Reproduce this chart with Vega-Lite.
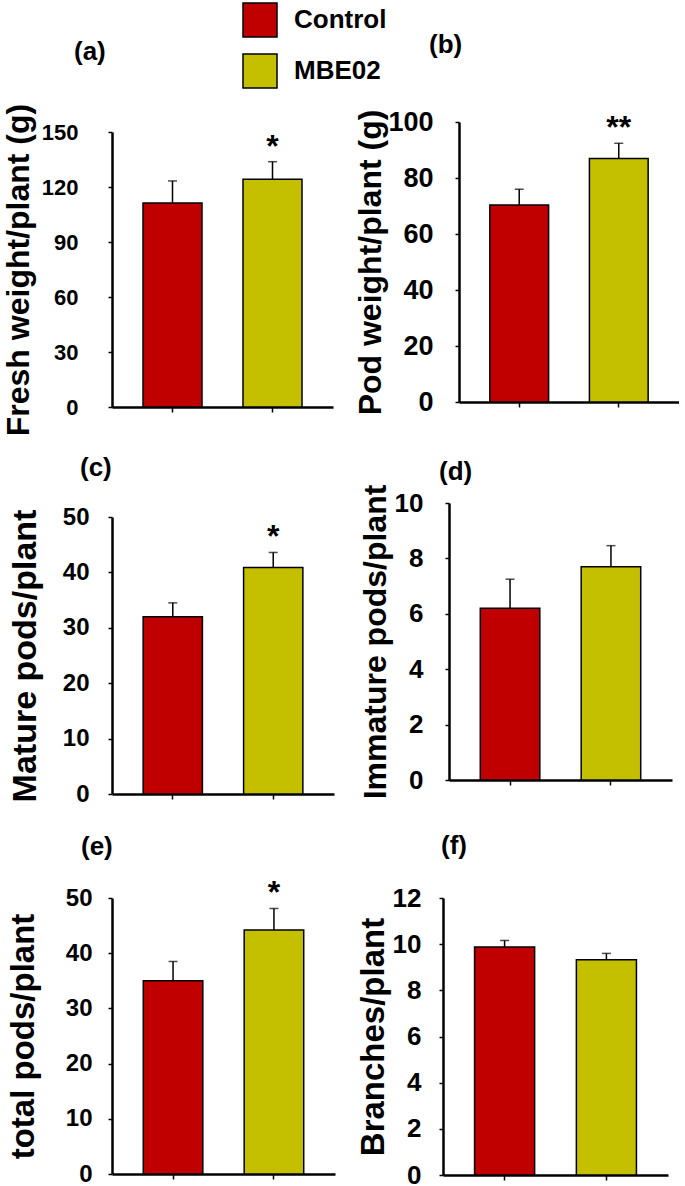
{
  "$schema": "https://vega.github.io/schema/vega-lite/v6.json",
  "padding": {"left": 2, "top": 2, "right": 0, "bottom": 0},
  "background": "white",
  "config": {
    "font": "Liberation Sans",
    "view": {"stroke": null},
    "axis": {"domainColor": "black", "domainWidth": 2.5, "tickColor": "black", "tickWidth": 1.5, "tickSize": 4, "labelFont": "Liberation Sans", "labelFontWeight": "bold", "labelColor": "black", "titleFont": "Liberation Sans", "titleFontWeight": "bold", "titleColor": "black", "grid": false},
    "axisX": {"labels": false, "title": null, "tickSize": 5},
    "title": {"font": "Liberation Sans", "fontSize": 26, "fontWeight": "bold", "color": "black", "anchor": "start", "frame": "group"},
    "legend": {"orient": "none", "legendX": 130, "legendY": -120, "symbolType": "square", "symbolSize": 1156, "symbolStrokeColor": "black", "symbolStrokeWidth": 1.5, "symbolOpacity": 1, "labelFont": "Liberation Sans", "labelFontSize": 26, "labelFontWeight": "bold", "labelColor": "black", "rowPadding": 11, "labelOffset": 16, "padding": 0, "titlePadding": 0}
  },
  "datasets": {
    "d": [
      {"panel": "a", "group": "Control", "mean": 111.3, "err": 123.3, "sig": ""},
      {"panel": "a", "group": "MBE02", "mean": 124.2, "err": 133.8, "sig": "*"},
      {"panel": "b", "group": "Control", "mean": 70.4, "err": 76.0, "sig": ""},
      {"panel": "b", "group": "MBE02", "mean": 87.0, "err": 92.4, "sig": "**"},
      {"panel": "c", "group": "Control", "mean": 32.0, "err": 34.5, "sig": ""},
      {"panel": "c", "group": "MBE02", "mean": 40.9, "err": 43.6, "sig": "*"},
      {"panel": "d", "group": "Control", "mean": 6.2, "err": 7.25, "sig": ""},
      {"panel": "d", "group": "MBE02", "mean": 7.7, "err": 8.46, "sig": ""},
      {"panel": "e", "group": "Control", "mean": 35.0, "err": 38.5, "sig": ""},
      {"panel": "e", "group": "MBE02", "mean": 44.2, "err": 48.1, "sig": "*"},
      {"panel": "f", "group": "Control", "mean": 9.88, "err": 10.16, "sig": ""},
      {"panel": "f", "group": "MBE02", "mean": 9.33, "err": 9.6, "sig": ""}
    ]
  },
  "data": {"name": "d"},
  "spacing": 19,
  "vconcat": [
    {
      "spacing": 21,
      "hconcat": [
        {
          "width": 221, "height": 285,
          "title": {"text": "(a)", "dx": -38, "offset": 38},
          "transform": [{"filter": "datum.panel == 'a'"}],
          "encoding": {"x": {"field": "group", "type": "nominal", "scale": {"paddingInner": 0.41, "paddingOuter": 0.31}}},
          "layer": [
            {"mark": {"type": "bar", "stroke": "black", "strokeWidth": 1.5}, "encoding": {"y": {"field": "mean", "type": "quantitative", "title": "Fresh weight/plant (g)", "scale": {"domain": [0, 150], "nice": false, "range": [285, 10]}, "axis": {"values": [0, 30, 60, 90, 120, 150], "labelFontSize": 22, "labelPadding": 30, "titleFontSize": 32, "titlePadding": 6}}, "color": {"field": "group", "type": "nominal", "scale": {"domain": ["Control", "MBE02"], "range": ["#C00000", "#C4C000"]}, "legend": {"title": null}}}},
            {"mark": {"type": "rule", "strokeWidth": 1.5, "color": "black"}, "encoding": {"y": {"field": "mean", "type": "quantitative", "title": "Fresh weight/plant (g)"}, "y2": {"field": "err"}}},
            {"mark": {"type": "tick", "thickness": 1.5, "size": 9, "color": "black"}, "encoding": {"y": {"field": "err", "type": "quantitative", "title": "Fresh weight/plant (g)"}}},
            {"mark": {"type": "text", "fontSize": 32, "fontWeight": "bold", "dy": -5, "baseline": "alphabetic", "color": "black"}, "encoding": {"y": {"field": "err", "type": "quantitative", "title": "Fresh weight/plant (g)"}, "text": {"field": "sig"}}}
          ]
        },
        {
          "width": 220, "height": 285,
          "title": {"text": "(b)", "dx": -30, "offset": 50},
          "transform": [{"filter": "datum.panel == 'b'"}],
          "encoding": {"x": {"field": "group", "type": "nominal", "scale": {"paddingInner": 0.41, "paddingOuter": 0.31}, "axis": {"offset": -5}}},
          "layer": [
            {"mark": {"type": "bar", "stroke": "black", "strokeWidth": 1.5}, "encoding": {"y": {"field": "mean", "type": "quantitative", "title": "Pod weight/plant (g)", "scale": {"domain": [0, 100], "nice": false, "range": [280, 0]}, "axis": {"values": [0, 20, 40, 60, 80, 100], "labelFontSize": 27, "labelPadding": 22, "titleFontSize": 32, "titlePadding": 0}}, "color": {"field": "group", "type": "nominal", "scale": {"domain": ["Control", "MBE02"], "range": ["#C00000", "#C4C000"]}, "legend": {"title": null}}}},
            {"mark": {"type": "rule", "strokeWidth": 1.5, "color": "black"}, "encoding": {"y": {"field": "mean", "type": "quantitative", "title": "Pod weight/plant (g)"}, "y2": {"field": "err"}}},
            {"mark": {"type": "tick", "thickness": 1.5, "size": 9, "color": "black"}, "encoding": {"y": {"field": "err", "type": "quantitative", "title": "Pod weight/plant (g)"}}},
            {"mark": {"type": "text", "fontSize": 32, "fontWeight": "bold", "dy": -5, "baseline": "alphabetic", "color": "black"}, "encoding": {"y": {"field": "err", "type": "quantitative", "title": "Pod weight/plant (g)"}, "text": {"field": "sig"}}}
          ]
        }
      ]
    },
    {
      "spacing": 27,
      "vconcat": [
        {
          "spacing": 25,
          "hconcat": [
            {
              "width": 222, "height": 291,
              "title": {"text": "(c)", "dx": -32, "offset": 22},
              "transform": [{"filter": "datum.panel == 'c'"}],
              "encoding": {"x": {"field": "group", "type": "nominal", "scale": {"paddingInner": 0.41, "paddingOuter": 0.31}}},
              "layer": [
                {"mark": {"type": "bar", "stroke": "black", "strokeWidth": 1.5}, "encoding": {"y": {"field": "mean", "type": "quantitative", "title": "Mature pods/plant", "scale": {"domain": [0, 50], "nice": false, "range": [291, 14]}, "axis": {"values": [0, 10, 20, 30, 40, 50], "labelFontSize": 24, "labelPadding": 19, "titleFontSize": 34, "titlePadding": 20}}, "color": {"field": "group", "type": "nominal", "scale": {"domain": ["Control", "MBE02"], "range": ["#C00000", "#C4C000"]}, "legend": {"title": null}}}},
                {"mark": {"type": "rule", "strokeWidth": 1.5, "color": "black"}, "encoding": {"y": {"field": "mean", "type": "quantitative", "title": "Mature pods/plant"}, "y2": {"field": "err"}}},
                {"mark": {"type": "tick", "thickness": 1.5, "size": 9, "color": "black"}, "encoding": {"y": {"field": "err", "type": "quantitative", "title": "Mature pods/plant"}}},
                {"mark": {"type": "text", "fontSize": 32, "fontWeight": "bold", "dy": -5, "baseline": "alphabetic", "color": "black"}, "encoding": {"y": {"field": "err", "type": "quantitative", "title": "Mature pods/plant"}, "text": {"field": "sig"}}}
              ]
            },
            {
              "width": 223, "height": 291,
              "title": {"text": "(d)", "dx": -10, "offset": -1},
              "transform": [{"filter": "datum.panel == 'd'"}],
              "encoding": {"x": {"field": "group", "type": "nominal", "scale": {"paddingInner": 0.41, "paddingOuter": 0.31}, "axis": {"offset": -14}}},
              "layer": [
                {"mark": {"type": "bar", "stroke": "black", "strokeWidth": 1.5}, "encoding": {"y": {"field": "mean", "type": "quantitative", "title": "Immature pods/plant", "scale": {"domain": [0, 10], "nice": false, "range": [277, 0]}, "axis": {"values": [0, 2, 4, 6, 8, 10], "labelFontSize": 26, "labelPadding": 22, "titleFontSize": 32, "titlePadding": 2}}, "color": {"field": "group", "type": "nominal", "scale": {"domain": ["Control", "MBE02"], "range": ["#C00000", "#C4C000"]}, "legend": {"title": null}}}},
                {"mark": {"type": "rule", "strokeWidth": 1.5, "color": "black"}, "encoding": {"y": {"field": "mean", "type": "quantitative", "title": "Immature pods/plant"}, "y2": {"field": "err"}}},
                {"mark": {"type": "tick", "thickness": 1.5, "size": 9, "color": "black"}, "encoding": {"y": {"field": "err", "type": "quantitative", "title": "Immature pods/plant"}}}
              ]
            }
          ]
        },
        {
          "spacing": 22,
          "hconcat": [
            {
              "width": 223, "height": 276,
              "title": {"text": "(e)", "dx": -31, "offset": 17},
              "transform": [{"filter": "datum.panel == 'e'"}],
              "encoding": {"x": {"field": "group", "type": "nominal", "scale": {"paddingInner": 0.41, "paddingOuter": 0.31}}},
              "layer": [
                {"mark": {"type": "bar", "stroke": "black", "strokeWidth": 1.5}, "encoding": {"y": {"field": "mean", "type": "quantitative", "title": "total pods/plant", "scale": {"domain": [0, 50], "nice": false}, "axis": {"values": [0, 10, 20, 30, 40, 50], "labelFontSize": 24, "labelPadding": 16, "titleFontSize": 33, "titlePadding": 25}}, "color": {"field": "group", "type": "nominal", "scale": {"domain": ["Control", "MBE02"], "range": ["#C00000", "#C4C000"]}, "legend": {"title": null}}}},
                {"mark": {"type": "rule", "strokeWidth": 1.5, "color": "black"}, "encoding": {"y": {"field": "mean", "type": "quantitative", "title": "total pods/plant"}, "y2": {"field": "err"}}},
                {"mark": {"type": "tick", "thickness": 1.5, "size": 9, "color": "black"}, "encoding": {"y": {"field": "err", "type": "quantitative", "title": "total pods/plant"}}},
                {"mark": {"type": "text", "fontSize": 32, "fontWeight": "bold", "dy": -5, "baseline": "alphabetic", "color": "black"}, "encoding": {"y": {"field": "err", "type": "quantitative", "title": "total pods/plant"}, "text": {"field": "sig"}}}
              ]
            },
            {
              "width": 225, "height": 277,
              "title": {"text": "(f)", "dx": -2, "offset": 26},
              "transform": [{"filter": "datum.panel == 'f'"}],
              "encoding": {"x": {"field": "group", "type": "nominal", "scale": {"paddingInner": 0.41, "paddingOuter": 0.31}}},
              "layer": [
                {"mark": {"type": "bar", "stroke": "black", "strokeWidth": 1.5}, "encoding": {"y": {"field": "mean", "type": "quantitative", "title": "Branches/plant", "scale": {"domain": [0, 12], "nice": false}, "axis": {"values": [0, 2, 4, 6, 8, 10, 12], "labelFontSize": 26, "labelPadding": 18, "titleFontSize": 33, "titlePadding": 2}}, "color": {"field": "group", "type": "nominal", "scale": {"domain": ["Control", "MBE02"], "range": ["#C00000", "#C4C000"]}, "legend": {"title": null}}}},
                {"mark": {"type": "rule", "strokeWidth": 1.5, "color": "black"}, "encoding": {"y": {"field": "mean", "type": "quantitative", "title": "Branches/plant"}, "y2": {"field": "err"}}},
                {"mark": {"type": "tick", "thickness": 1.5, "size": 9, "color": "black"}, "encoding": {"y": {"field": "err", "type": "quantitative", "title": "Branches/plant"}}}
              ]
            }
          ]
        }
      ]
    }
  ]
}
